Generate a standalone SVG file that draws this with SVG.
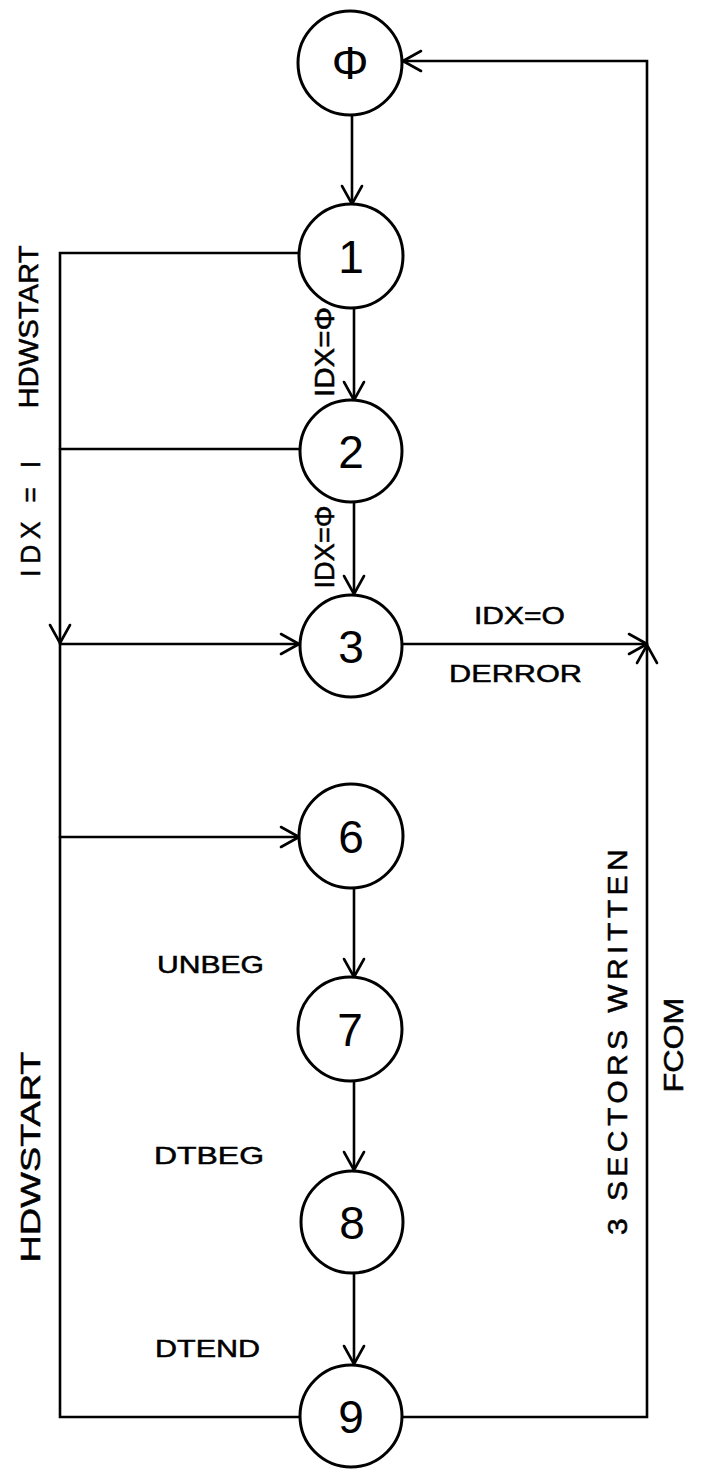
<svg xmlns="http://www.w3.org/2000/svg" width="702" height="1480" viewBox="0 0 702 1480">
<style>
  .node circle { fill: #fff; stroke: #000; stroke-width: 3; }
  .digit { font-family: "Liberation Sans", "DejaVu Sans", sans-serif; font-size: 46px; text-anchor: middle; fill: #000; }
  .edge { fill: none; stroke: #000; stroke-width: 2.6; stroke-linecap: round; }
  .lbl { font-family: "Liberation Sans", "DejaVu Sans", sans-serif; font-size: 24px; fill: #000; stroke: #000; stroke-width: 0.5; }
  .vlbl { font-family: "Liberation Sans", "DejaVu Sans", sans-serif; font-size: 27px; fill: #000; stroke: #000; stroke-width: 0.5; text-anchor: middle; }
</style>
<defs>
  <marker id="arr" viewBox="-22 -12 24 24" refX="0" refY="0" markerWidth="24" markerHeight="24" markerUnits="userSpaceOnUse" orient="auto">
    <path d="M-18,-10 L0,0 L-18,10" fill="none" stroke="#000" stroke-width="2.6" stroke-linecap="round" stroke-linejoin="round"/>
  </marker>
</defs>
<rect width="702" height="1480" fill="#fff"/>
<g id="connectors">
  <path class="edge" d="M352,115 L352,204" marker-end="url(#arr)"/>
  <path class="edge" d="M354,308 L354,400" marker-end="url(#arr)"/>
  <path class="edge" d="M354,502 L354,594" marker-end="url(#arr)"/>
  <path class="edge" d="M354,888 L354,977" marker-end="url(#arr)"/>
  <path class="edge" d="M354,1081 L354,1170" marker-end="url(#arr)"/>
  <path class="edge" d="M354,1274 L354,1364" marker-end="url(#arr)"/>
  <path class="edge" d="M300,253 L60,253 L60,643" marker-end="url(#arr)"/>
  <path class="edge" d="M300,449 L60,449"/>
  <path class="edge" d="M60,643 L60,1417 L300,1417"/>
  <path class="edge" d="M60,644 L299,644" marker-end="url(#arr)"/>
  <path class="edge" d="M60,837 L299,837" marker-end="url(#arr)"/>
  <path class="edge" d="M402,644 L647,644" marker-end="url(#arr)"/>
  <path class="edge" d="M402,1417 L647,1417 L647,645" marker-end="url(#arr)"/>
  <path class="edge" d="M647,644 L647,61 L403,61" marker-end="url(#arr)"/>
</g>
<g id="node0" class="node"><circle cx="350" cy="63" r="52"/><text class="digit" x="350" y="79">Φ</text></g>
<g id="node1" class="node"><circle cx="351" cy="256" r="52"/><text class="digit" x="351" y="273">1</text></g>
<g id="node2" class="node"><circle cx="351" cy="451" r="51"/><text class="digit" x="351" y="468">2</text></g>
<g id="node3" class="node"><circle cx="351" cy="646" r="51"/><text class="digit" x="351" y="663">3</text></g>
<g id="node6" class="node"><circle cx="351" cy="836" r="52"/><text class="digit" x="351" y="853">6</text></g>
<g id="node7" class="node"><circle cx="350" cy="1029" r="52"/><text class="digit" x="350" y="1046">7</text></g>
<g id="node8" class="node"><circle cx="352" cy="1222" r="51"/><text class="digit" x="352" y="1239">8</text></g>
<g id="node9" class="node"><circle cx="351" cy="1416" r="51"/><text class="digit" x="351" y="1433">9</text></g>
<g id="labels">
  <text class="vlbl" transform="translate(38,327) rotate(-90)" textLength="163" lengthAdjust="spacingAndGlyphs">HDWSTART</text>
  <text class="vlbl" transform="translate(40,516) rotate(-90)" textLength="122" lengthAdjust="spacingAndGlyphs" letter-spacing="6">IDX = I</text>
  <text class="vlbl" font-size="23" transform="translate(334,352) rotate(-90)" textLength="90" lengthAdjust="spacingAndGlyphs">IDX=Φ</text>
  <text class="vlbl" font-size="23" transform="translate(334,547) rotate(-90)" textLength="83" lengthAdjust="spacingAndGlyphs">IDX=Φ</text>
  <text class="vlbl" transform="translate(40,1157) rotate(-90)" textLength="211" lengthAdjust="spacingAndGlyphs">HDWSTART</text>
  <text class="vlbl" transform="translate(627,1040) rotate(-90)" textLength="390" lengthAdjust="spacingAndGlyphs" letter-spacing="4">3 SECTORS  WRITTEN</text>
  <text class="vlbl" transform="translate(683,1045) rotate(-90)" textLength="95" lengthAdjust="spacingAndGlyphs">FCOM</text>
  <text class="lbl" x="474" y="624" textLength="91" lengthAdjust="spacingAndGlyphs">IDX=O</text>
  <text class="lbl" x="449" y="682" textLength="133" lengthAdjust="spacingAndGlyphs">DERROR</text>
  <text class="lbl" x="157" y="973" textLength="107" lengthAdjust="spacingAndGlyphs">UNBEG</text>
  <text class="lbl" x="154" y="1164" textLength="110" lengthAdjust="spacingAndGlyphs">DTBEG</text>
  <text class="lbl" x="155" y="1357" textLength="105" lengthAdjust="spacingAndGlyphs">DTEND</text>
</g>
</svg>
